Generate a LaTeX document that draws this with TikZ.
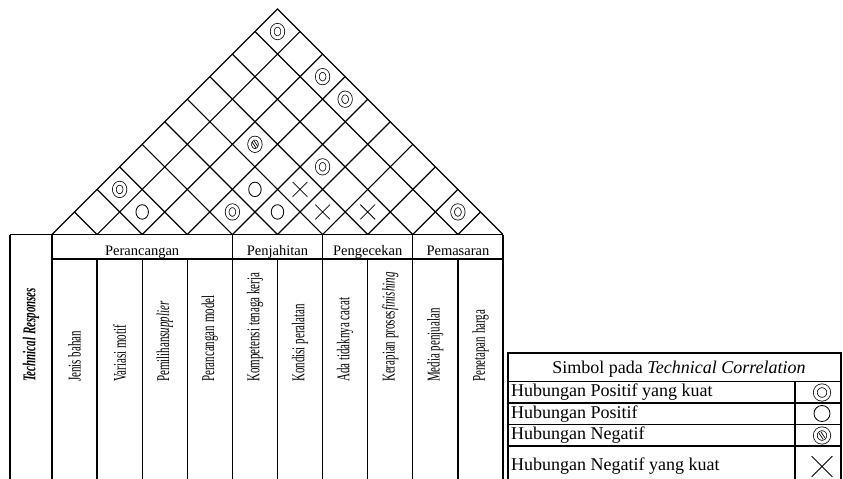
\documentclass[tikz,border=0pt]{standalone}
\usepackage{fontspec}
\setmainfont{Liberation Serif}
\usepackage{graphicx}
\usetikzlibrary{shapes.geometric, shapes.misc, calc}

% condensed cell text
\newcommand{\narrow}[1]{\scalebox{0.61}[1]{#1}}

\begin{document}
\begin{tikzpicture}[
    x=1pt, y=-1pt,
    roof/.style={line width=1.2pt},
    rule/.style={line width=1.3pt},
    heavyrule/.style={line width=2.2pt},
    grouphead/.style={font=\fontsize{14.5}{16}\selectfont, anchor=base, inner sep=0pt},
    resp/.style={font=\fontsize{18}{20}\selectfont, rotate=90, anchor=west, inner sep=0pt},
    legtext/.style={font=\fontsize{18}{20}\selectfont, anchor=base west, inner sep=0pt},
    strongpos/.style={draw, ellipse, double, double distance=3pt, line width=0.75pt, minimum width=10.6pt, minimum height=12.5pt, inner sep=0pt},
    posmark/.style={draw, ellipse, line width=0.85pt, minimum width=12.5pt, minimum height=14.5pt, inner sep=0pt},
    negmark/.style={strongpos, path picture={
        \draw[line width=0.7pt, shift={(path picture bounding box.center)}]
          (-1.0pt,3.6pt) -- (2.9pt,-2.3pt) (-2.9pt,2.3pt) -- (1.0pt,-3.6pt);}},
    strongneg/.style={draw, cross out, line width=0.75pt, minimum width=14pt, minimum height=14pt, inner sep=0pt}
  ]
    \useasboundingbox (0,0) rectangle (843,479);

    % roof
    \coordinate (apex) at (277.5,9);
    \draw[roof] (52,234.5) -- (apex) -- (503,234.5);
    \foreach \i in {1,...,9}{
      \pgfmathsetmacro{\bx}{52+\i*45.1}
      \draw[roof] (\bx,234.5) -- ({(\bx+503)/2},{234.5-(503-\bx)/2});
      \draw[roof] (\bx,234.5) -- ({(\bx+52)/2},{234.5-(\bx-52)/2});
    }
    \foreach \i/\j/\mark in {1/10/strongpos, 3/10/strongpos, 4/10/strongpos, 3/7/negmark,
        5/8/strongpos, 1/3/strongpos, 2/3/posmark, 4/6/posmark, 4/5/strongpos,
        5/6/posmark, 5/7/strongneg, 6/7/strongneg, 7/8/strongneg, 9/10/strongpos}
      \node[\mark] (r\i-\j) at ({52+(\i+\j-1)*22.55},{234.5-(\j-\i)*22.55}) {};

    % table
    \draw[rule] (10,234.5) -- (503,234.5);
    \draw[heavyrule] (52,258.8) -- (503,258.8);
    \foreach \x in {10,52,232.4,322.6,412.8,503}
      \draw[rule] (\x,234.5) -- (\x,479);
    \foreach \x in {97.1,142.2,187.3,277.5,367.7,457.9}
      \draw[rule] (\x,258.8) -- (\x,479);

    \node[grouphead] (g1) at (142.2,255.5) {Perancangan};
    \node[grouphead] (g2) at (277.5,255.5) {Penjahitan};
    \node[grouphead] (g3) at (367.7,255.5) {Pengecekan};
    \node[grouphead] (g4) at (457.9,255.5) {Pemasaran};

    \node[resp] (t0) at (31,382) {\narrow{\textbf{\textit{Technical Responses}}}};
    \foreach \k/\txt in {1/Jenis bahan, 2/Variasi motif, 3/Pemilihan\textit{supplier},
        4/Perancangan model, 5/Kompetensi tenaga kerja, 6/Kondisi peralatan,
        7/Ada tidaknya cacat, 8/Kerapian proses\textit{finishing},
        9/Media penjualan, 10/Penetapan harga}
      \node[resp] (t\k) at ({74.55+(\k-1)*45.1},382) {\narrow{\txt}};

    % legend
    \draw[rule] (508,479) -- (508,353) -- (841,353) -- (841,479);
    \foreach \y in {381.5,403,424.5,446}
      \draw[rule] (508,\y) -- (841,\y);
    \draw[rule] (795,381.5) -- (795,479);

    \node[legtext, anchor=base] (k0) at (679,373) {Simbol pada \textit{Technical Correlation}};
    \node[legtext] (k1) at (511,396.5) {Hubungan Positif yang kuat};
    \node[legtext] (k2) at (511,418) {Hubungan Positif};
    \node[legtext] (k3) at (511,439.5) {Hubungan Negatif};
    \node[legtext] (k4) at (511,470) {Hubungan Negatif yang kuat};

    \node[strongpos, minimum width=13.5pt, minimum height=13.5pt] (s1) at (822,392.5) {};
    \node[posmark, minimum width=16pt, minimum height=16pt] (s2) at (822,413.5) {};
    \node[negmark, minimum width=13.5pt, minimum height=13.5pt] (s3) at (822,435.5) {};
    \node[strongneg, minimum width=20pt, minimum height=20pt] (s4) at (822,466.5) {};
  \end{tikzpicture}
\end{document}
